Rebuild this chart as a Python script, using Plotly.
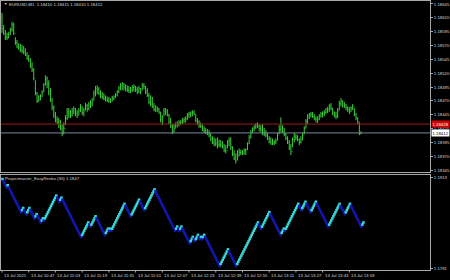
import plotly.graph_objects as go

# ---------------- data ----------------
symbol_header = "EURUSD,M1  1.18410 1.18415 1.18410 1.18412"
indicator_label = "Projectmaster_EasyRenko (30) 1.1847"

time_labels = ["13 Jul 2021", "13 Jul 10:47", "13 Jul 11:03", "13 Jul 11:19",
               "13 Jul 11:35", "13 Jul 11:51", "13 Jul 12:07", "13 Jul 12:23",
               "13 Jul 12:39", "13 Jul 12:55", "13 Jul 13:11", "13 Jul 13:27",
               "13 Jul 13:43", "13 Jul 13:59"]
bars_per_label = 16

price_ticks = [1.18645, 1.18620, 1.18595, 1.18570, 1.18545, 1.18520, 1.18495,
               1.18470, 1.18445, 1.18420, 1.18395, 1.18370, 1.18345]
renko_ticks = [1.1913, 1.1781]

ask_price = 1.18428
bid_price = 1.18412
first_open = 1.18620

high = [
 1.18629,1.18607,1.18598,1.18593,1.18595,1.18602,1.18613,1.18611,
 1.18585,1.18580,1.18574,1.18573,1.18571,1.18569,1.18565,1.18558,
 1.18553,1.18547,1.18540,1.18529,1.18507,1.18486,1.18480,1.18482,
 1.18489,1.18502,1.18516,1.18514,1.18507,1.18493,1.18475,1.18462,
 1.18450,1.18442,1.18439,1.18435,1.18428,1.18431,1.18444,1.18457,
 1.18457,1.18453,1.18457,1.18460,1.18457,1.18453,1.18457,1.18464,
 1.18460,1.18457,1.18466,1.18464,1.18468,1.18471,1.18475,1.18489,
 1.18497,1.18498,1.18495,1.18489,1.18486,1.18484,1.18480,1.18478,
 1.18477,1.18475,1.18479,1.18480,1.18484,1.18489,1.18497,1.18502,
 1.18504,1.18502,1.18500,1.18498,1.18497,1.18495,1.18498,1.18500,
 1.18497,1.18495,1.18497,1.18493,1.18502,1.18502,1.18497,1.18493,
 1.18484,1.18480,1.18477,1.18466,1.18462,1.18460,1.18457,1.18450,
 1.18444,1.18457,1.18457,1.18455,1.18446,1.18439,1.18428,1.18428,
 1.18431,1.18433,1.18435,1.18435,1.18439,1.18440,1.18442,1.18448,
 1.18450,1.18451,1.18453,1.18453,1.18446,1.18439,1.18435,1.18431,
 1.18428,1.18424,1.18421,1.18419,1.18417,1.18412,1.18406,1.18404,
 1.18402,1.18404,1.18400,1.18399,1.18397,1.18392,1.18390,1.18399,
 1.18404,1.18404,1.18388,1.18381,1.18375,1.18381,1.18384,1.18382,
 1.18381,1.18384,1.18384,1.18395,1.18408,1.18417,1.18422,1.18426,
 1.18430,1.18431,1.18428,1.18426,1.18428,1.18421,1.18417,1.18412,
 1.18406,1.18404,1.18402,1.18399,1.18402,1.18412,1.18426,1.18440,
 1.18426,1.18421,1.18412,1.18406,1.18399,1.18392,1.18404,1.18412,
 1.18410,1.18408,1.18402,1.18406,1.18413,1.18424,1.18437,1.18446,
 1.18448,1.18450,1.18450,1.18446,1.18442,1.18442,1.18446,1.18450,
 1.18451,1.18453,1.18457,1.18459,1.18464,1.18466,1.18457,1.18451,
 1.18450,1.18457,1.18470,1.18475,1.18471,1.18468,1.18464,1.18460,
 1.18459,1.18460,1.18464,1.18457,1.18448,1.18440,1.18431,1.18415]

low = [
 1.18593,1.18589,1.18580,1.18580,1.18583,1.18589,1.18595,1.18589,
 1.18571,1.18565,1.18562,1.18558,1.18556,1.18554,1.18551,1.18544,
 1.18540,1.18529,1.18522,1.18507,1.18480,1.18466,1.18468,1.18471,
 1.18477,1.18486,1.18498,1.18493,1.18480,1.18468,1.18453,1.18439,
 1.18431,1.18428,1.18421,1.18417,1.18406,1.18410,1.18426,1.18435,
 1.18439,1.18439,1.18442,1.18446,1.18442,1.18439,1.18444,1.18450,
 1.18444,1.18442,1.18453,1.18450,1.18453,1.18457,1.18460,1.18471,
 1.18478,1.18482,1.18480,1.18475,1.18473,1.18471,1.18469,1.18468,
 1.18466,1.18466,1.18469,1.18471,1.18475,1.18478,1.18484,1.18489,
 1.18489,1.18489,1.18487,1.18486,1.18484,1.18484,1.18486,1.18487,
 1.18486,1.18482,1.18484,1.18482,1.18489,1.18491,1.18482,1.18477,
 1.18464,1.18460,1.18457,1.18451,1.18450,1.18450,1.18446,1.18431,
 1.18426,1.18442,1.18444,1.18442,1.18428,1.18421,1.18410,1.18413,
 1.18421,1.18422,1.18424,1.18426,1.18428,1.18430,1.18431,1.18435,
 1.18439,1.18440,1.18442,1.18444,1.18431,1.18426,1.18421,1.18421,
 1.18415,1.18412,1.18410,1.18408,1.18404,1.18397,1.18392,1.18388,
 1.18388,1.18384,1.18386,1.18386,1.18384,1.18377,1.18375,1.18384,
 1.18388,1.18381,1.18370,1.18363,1.18357,1.18363,1.18370,1.18372,
 1.18372,1.18373,1.18372,1.18381,1.18392,1.18402,1.18412,1.18415,
 1.18419,1.18421,1.18415,1.18413,1.18408,1.18406,1.18404,1.18399,
 1.18393,1.18390,1.18390,1.18390,1.18392,1.18399,1.18410,1.18413,
 1.18412,1.18406,1.18399,1.18392,1.18381,1.18372,1.18386,1.18395,
 1.18399,1.18397,1.18390,1.18393,1.18399,1.18410,1.18421,1.18428,
 1.18437,1.18440,1.18439,1.18435,1.18431,1.18430,1.18435,1.18440,
 1.18440,1.18442,1.18446,1.18448,1.18450,1.18453,1.18444,1.18440,
 1.18437,1.18439,1.18453,1.18460,1.18458,1.18457,1.18453,1.18450,
 1.18446,1.18450,1.18453,1.18442,1.18435,1.18428,1.18408,1.18410]

close = [
 1.18600,1.18592,1.18585,1.18584,1.18590,1.18598,1.18608,1.18592,
 1.18575,1.18568,1.18566,1.18562,1.18560,1.18558,1.18553,1.18547,
 1.18544,1.18533,1.18526,1.18510,1.18484,1.18470,1.18473,1.18478,
 1.18485,1.18498,1.18510,1.18500,1.18486,1.18472,1.18458,1.18444,
 1.18436,1.18432,1.18424,1.18420,1.18410,1.18420,1.18438,1.18450,
 1.18452,1.18444,1.18450,1.18455,1.18447,1.18443,1.18452,1.18460,
 1.18449,1.18452,1.18462,1.18455,1.18464,1.18466,1.18470,1.18484,
 1.18492,1.18490,1.18484,1.18478,1.18477,1.18474,1.18472,1.18470,
 1.18470,1.18469,1.18474,1.18477,1.18480,1.18486,1.18493,1.18497,
 1.18500,1.18495,1.18492,1.18490,1.18488,1.18490,1.18494,1.18496,
 1.18490,1.18486,1.18492,1.18488,1.18498,1.18496,1.18486,1.18480,
 1.18468,1.18464,1.18460,1.18455,1.18453,1.18456,1.18450,1.18436,
 1.18440,1.18452,1.18450,1.18446,1.18432,1.18424,1.18414,1.18420,
 1.18426,1.18428,1.18430,1.18431,1.18434,1.18436,1.18438,1.18444,
 1.18446,1.18448,1.18449,1.18446,1.18435,1.18430,1.18425,1.18424,
 1.18419,1.18416,1.18413,1.18411,1.18408,1.18401,1.18395,1.18392,
 1.18394,1.18390,1.18391,1.18390,1.18388,1.18381,1.18380,1.18396,
 1.18398,1.18386,1.18374,1.18366,1.18362,1.18370,1.18377,1.18376,
 1.18375,1.18380,1.18382,1.18392,1.18404,1.18413,1.18419,1.18422,
 1.18426,1.18424,1.18420,1.18417,1.18412,1.18410,1.18407,1.18402,
 1.18396,1.18394,1.18393,1.18395,1.18398,1.18408,1.18418,1.18420,
 1.18415,1.18409,1.18402,1.18395,1.18385,1.18378,1.18400,1.18405,
 1.18404,1.18400,1.18395,1.18399,1.18408,1.18420,1.18433,1.18440,
 1.18444,1.18446,1.18442,1.18438,1.18436,1.18437,1.18441,1.18446,
 1.18447,1.18449,1.18452,1.18455,1.18460,1.18457,1.18448,1.18444,
 1.18442,1.18452,1.18465,1.18470,1.18464,1.18462,1.18458,1.18454,
 1.18450,1.18456,1.18460,1.18446,1.18439,1.18432,1.18410,1.18412]

# Renko (EasyRenko, box 30 points): first brick price and signed runs of bricks
renko_box = 0.0003
renko_first = 1.1910
renko_runs = [-4, 1, -13, 2, -3, 3, -5, 2, -4, 2, -1, 12, -3, 2, -19, 7, -2, 5,
              -9, 3, -1, 1, -1, 13, -6, 8, -5, 10, -20, 2, -2, 2, -8, 3, -2, 3,
              -2, 1, -1, 2, -15, 8, -8, 21, -3, 8, -11, 3, -1, 13, -3, 4, -5, 5,
              -12, 11, -5, 5, -11, 2]

# ---------------- styles ----------------
BG = "#000000"
GREEN = "#3ad13a"
FRAME = "#a8a8a8"
TXT = "#d8d8d8"
UP = "#3ad8d8"
DOWN = "#1616b4"
FONT = "Liberation Sans"
FS = 4.3
W, H = 450, 280

def px_x(p):
    return p / W

def px_y(p):
    return 1 - p / H

# ---------------- build ----------------
n = len(close)
bars = list(range(n))
opens = [first_open] + close[:-1]

renko_vals = [renko_first]
renko_cols = [UP]
for r in renko_runs:
    step = 1 if r > 0 else -1
    for _ in range(abs(r)):
        renko_vals.append(round(renko_vals[-1] + step * renko_box, 4))
        renko_cols.append(UP if step > 0 else DOWN)

fig = go.Figure()
fig.add_trace(go.Ohlc(
    x=bars, open=opens, high=high, low=low, close=close,
    xaxis="x", yaxis="y", tickwidth=0.3, hoverinfo="skip",
    increasing=dict(line=dict(color=GREEN, width=1)),
    decreasing=dict(line=dict(color=GREEN, width=1)),
))
fig.add_trace(go.Scatter(
    x=list(range(len(renko_vals))), y=renko_vals, mode="markers",
    xaxis="x2", yaxis="y2", hoverinfo="skip",
    marker=dict(symbol="square", size=2.6, color=renko_cols, line=dict(width=0)),
))

xdom = [px_x(1), px_x(430)]
axis_common = dict(showgrid=False, zeroline=False, showline=True, mirror=True,
                   linecolor=FRAME, linewidth=1, fixedrange=True)

shapes = [
    dict(type="line", xref="paper", yref="y", x0=xdom[0], x1=xdom[1],
         y0=ask_price, y1=ask_price, line=dict(color="#a01818", width=1)),
    dict(type="line", xref="paper", yref="y", x0=xdom[0], x1=xdom[1],
         y0=bid_price, y1=bid_price, line=dict(color="#778899", width=1)),
]
annotations = [
    dict(xref="paper", yref="paper", x=px_x(1.5), y=px_y(4.5), text="▼",
         showarrow=False, xanchor="left", yanchor="middle",
         font=dict(family=FONT, size=3.5, color=TXT)),
    dict(xref="paper", yref="paper", x=px_x(7), y=px_y(4.5), text=symbol_header,
         showarrow=False, xanchor="left", yanchor="middle",
         font=dict(family=FONT, size=FS, color=TXT)),
    dict(xref="paper", yref="paper", x=px_x(3), y=px_y(178), text=indicator_label,
         showarrow=False, xanchor="left", yanchor="middle",
         font=dict(family=FONT, size=FS, color=TXT)),
    dict(xref="paper", yref="y", x=px_x(431), y=ask_price, text=f"{ask_price:.5f}",
         showarrow=False, xanchor="left", yanchor="middle", bgcolor="#d40000",
         borderpad=0.5, font=dict(family=FONT, size=FS, color="#ffffff")),
    dict(xref="paper", yref="y", x=px_x(431), y=bid_price, text=f"{bid_price:.5f}",
         showarrow=False, xanchor="left", yanchor="middle", bgcolor="#ffffff",
         borderpad=0.5, font=dict(family=FONT, size=FS, color="#000000")),
]
for i, lab in enumerate(time_labels):
    b = i * bars_per_label
    shapes.append(dict(type="line", xref="x", yref="paper", x0=b, x1=b,
                       y0=px_y(270), y1=px_y(272.5), line=dict(color=FRAME, width=1)))
    annotations.append(dict(xref="x", yref="paper", x=b, y=px_y(275), text=lab,
                            showarrow=False, xanchor="left", yanchor="middle",
                            font=dict(family=FONT, size=FS, color=TXT)))

tickfont = dict(family=FONT, size=FS, color=TXT)
fig.update_layout(
    width=W, height=H, margin=dict(l=0, r=0, t=0, b=0),
    paper_bgcolor=BG, plot_bgcolor=BG, showlegend=False,
    xaxis=dict(domain=xdom, anchor="y", range=[-0.6, 256.3], showticklabels=False,
               ticks="", rangeslider=dict(visible=False), **axis_common),
    yaxis=dict(domain=[px_y(172), px_y(1)], anchor="x", side="right",
               range=[1.183414, 1.186504], tickmode="array", tickvals=price_ticks,
               ticktext=[f"{v:.5f}" for v in price_ticks], ticks="outside", ticklen=2,
               tickcolor=FRAME, tickfont=tickfont, **axis_common),
    xaxis2=dict(domain=xdom, anchor="y2", range=[-1.45, 413.4], showticklabels=False,
                ticks="", **axis_common),
    yaxis2=dict(domain=[px_y(270), px_y(175)], anchor="x2", side="right",
                range=[1.17781, 1.19159], tickmode="array", tickvals=renko_ticks,
                ticktext=[f"{v:.4f}" for v in renko_ticks], ticks="outside", ticklen=2,
                tickcolor=FRAME, tickfont=tickfont, **axis_common),
    shapes=shapes, annotations=annotations,
)

fig.write_html("out.html")
